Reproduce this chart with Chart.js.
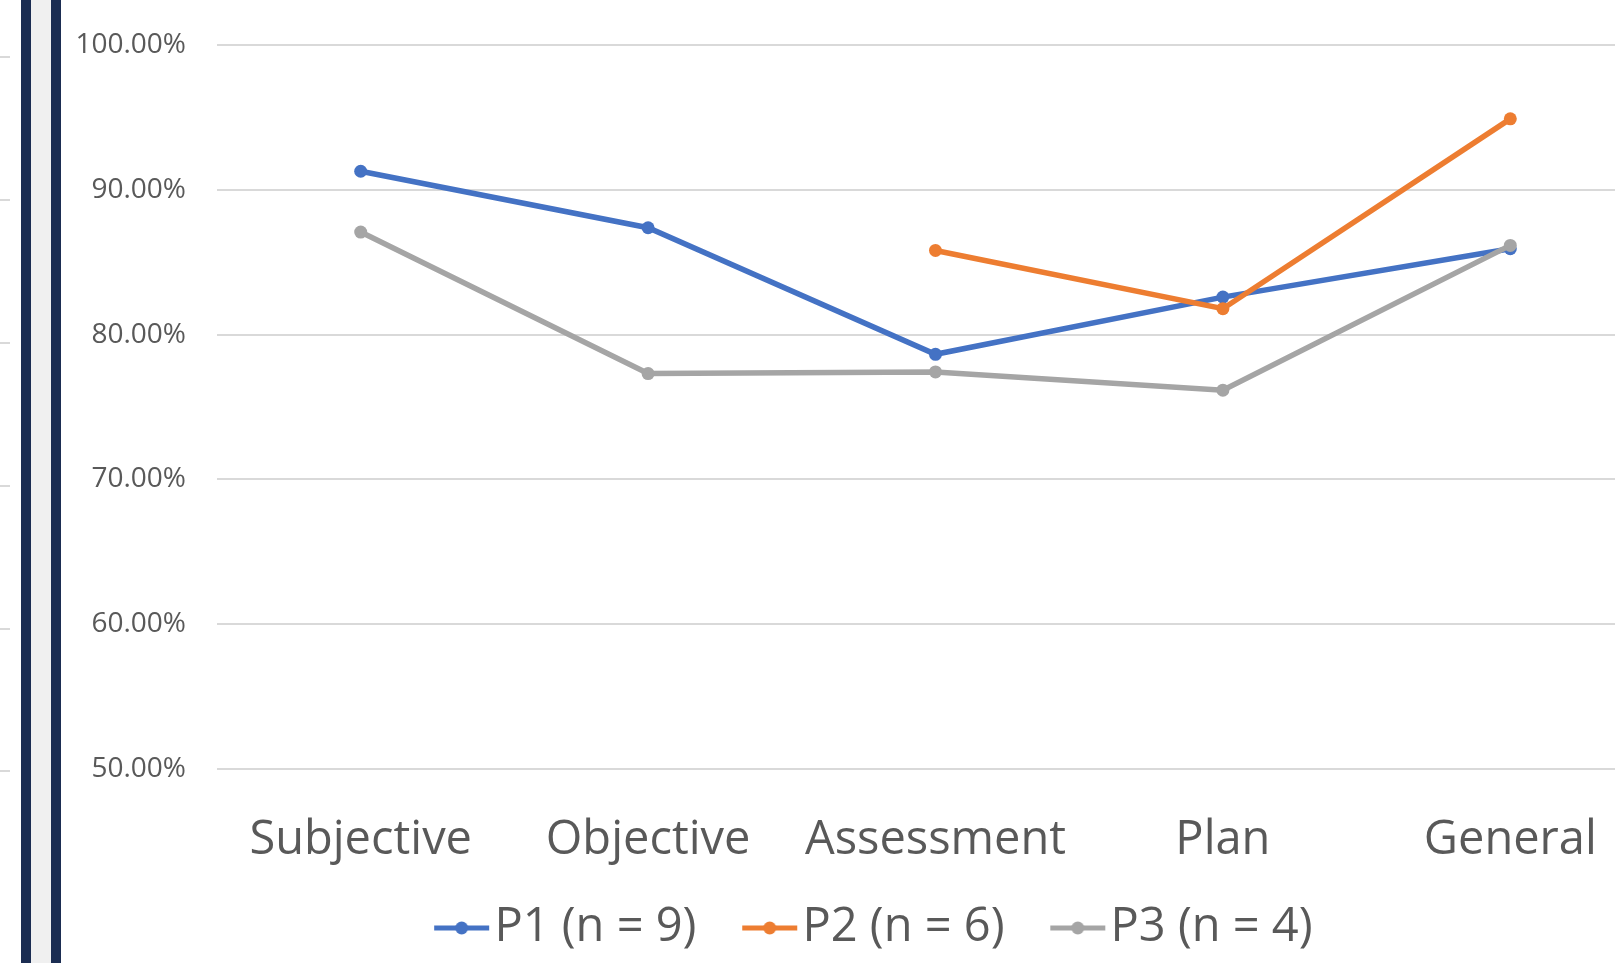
<!DOCTYPE html>
<html>
<head>
<meta charset="utf-8">
<script src="https://cdn.jsdelivr.net/npm/chart.js@4/dist/chart.umd.min.js"></script>
<style>
  html, body { margin: 0; padding: 0; background: #fff; overflow: hidden; width: 1615px; height: 963px; }
  #wrap { position: absolute; left: 0; top: 0; width: 1615px; height: 963px; overflow: hidden; }
  #c { position: absolute; left: 0; top: 0; }
  .bar { position: absolute; top: 0; height: 963px; }
  .stub { position: absolute; left: 0; width: 10px; height: 2px; background: #d9d9d9; }
</style>
</head>
<body>
<div id="wrap">
  <canvas id="c" width="1700" height="963"></canvas>
  <!-- slide frame on the left -->
  <div class="bar" style="left:21px;width:10px;background:#1b2d52"></div>
  <div class="bar" style="left:31px;width:20px;background:#f0f0f0"></div>
  <div class="bar" style="left:51px;width:10px;background:#1b2d52"></div>
  <div class="stub" style="top:56px"></div>
  <div class="stub" style="top:199px"></div>
  <div class="stub" style="top:342px"></div>
  <div class="stub" style="top:485px"></div>
  <div class="stub" style="top:628px"></div>
  <div class="stub" style="top:770px"></div>
</div>
<script>
// SOAP section scores per group
const categories = ['Subjective', 'Objective', 'Assessment', 'Plan', 'General'];
const seriesNames = ['P1 (n = 9)', 'P2 (n = 6)', 'P3 (n = 4)'];
const p1 = [91.28, 87.38, 78.64, 82.59, 85.93];
const p2 = [null, null, 85.81, 81.79, 94.90];
const p3 = [87.08, 77.31, 77.42, 76.16, 86.16];
const yMin = 50, yMax = 100, yStep = 10;

const colors = ['#4472C4', '#ED7D31', '#A5A5A5'];
const FONT = "'Open Sans', 'Noto Sans', sans-serif";
const LEGEND_SIZE = 47;
const LEGEND_PAD = 20;

// legend swatch: short line with a dot in the middle, sitting close to its text
const LINE_LEN = 55;
const BOX_W = 82.5 - LEGEND_PAD;
const EXT = 20;
function swatch(color) {
  const cv = document.createElement('canvas');
  cv.width = Math.round(BOX_W + 2 * EXT);
  cv.height = 16;
  const g = cv.getContext('2d');
  const x1 = BOX_W + EXT + LEGEND_SIZE / 2 - 5;
  const x0 = x1 - LINE_LEN;
  g.strokeStyle = color;
  g.lineWidth = 5;
  g.beginPath();
  g.moveTo(x0, 8);
  g.lineTo(x1, 8);
  g.stroke();
  g.fillStyle = color;
  g.beginPath();
  g.arc((x0 + x1) / 2, 8, 6.5, 0, Math.PI * 2);
  g.fill();
  return cv;
}
const swatches = colors.map(swatch);

const seriesData = [p1, p2, p3];
const datasets = seriesData.map((d, i) => ({
  label: seriesNames[i],
  data: d,
  borderColor: colors[i],
  backgroundColor: colors[i],
  pointBackgroundColor: colors[i],
  pointBorderWidth: 0,
  pointRadius: 6.5,
  pointHoverRadius: 6.5,
  borderWidth: 5.5,
  tension: 0,
  fill: false,
  order: 3 - i
}));

new Chart(document.getElementById('c'), {
  type: 'line',
  data: { labels: categories, datasets },
  options: {
    responsive: false,
    animation: false,
    devicePixelRatio: 1,
    layout: { padding: { left: 67, top: 45, right: 46, bottom: 1.5 } },
    plugins: {
      tooltip: { enabled: false },
      legend: {
        position: 'bottom',
        labels: {
          usePointStyle: true,
          pointStyleWidth: BOX_W,
          padding: LEGEND_PAD,
          color: '#595959',
          font: { family: FONT, size: LEGEND_SIZE },
          generateLabels: (chart) => chart.data.datasets.map((ds, i) => ({
            text: ds.label,
            fontColor: '#595959',
            pointStyle: swatches[i],
            fillStyle: colors[i],
            strokeStyle: colors[i],
            lineWidth: 0,
            hidden: false,
            datasetIndex: i
          }))
        }
      }
    },
    scales: {
      x: {
        offset: true,
        grid: { display: false, drawTicks: false },
        border: { display: false },
        ticks: { color: '#595959', font: { family: FONT, size: 47 }, padding: 43, maxRotation: 0 },
        afterFit: (s) => { s.height = 115.5; }
      },
      y: {
        min: yMin,
        max: yMax,
        grid: { color: '#d9d9d9', lineWidth: 2, drawTicks: true, tickLength: 31, tickColor: 'rgba(0,0,0,0)' },
        border: { display: false },
        ticks: {
          stepSize: yStep,
          color: '#595959',
          font: { family: FONT, size: 28 },
          padding: 0,
          callback: (v) => v.toFixed(2) + '%'
        },
        afterFit: (s) => { s.width = 150; }
      }
    }
  }
});
</script>
</body>
</html>
